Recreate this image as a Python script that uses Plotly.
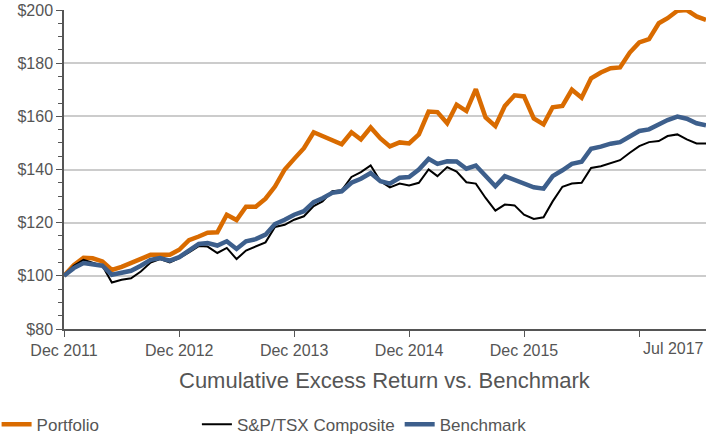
import pandas as pd
import plotly.graph_objects as go

months = pd.date_range("2011-12-01", periods=68, freq="MS")

portfolio = [100, 104, 106.8, 106.6, 105.4, 102.2, 103.4, 105, 106.6, 107.9,
             107.9, 107.9, 109.8, 113.4, 114.8, 116.2, 116.4, 123, 121, 126,
             126, 129, 133.6, 140, 144, 148, 154, 152.5, 151.2, 149.5,
             154, 151.3, 155.8, 151.7, 148.7, 150.2, 149.8, 153.2, 161.8, 161.6,
             157.4, 164.4, 162, 170.2, 159.6, 156.3, 163.9, 167.9, 167.5, 159.2,
             157, 163.4, 163.9, 170, 167, 174.3, 176.5, 178.1, 178.4, 184,
             187.8, 189, 195, 196.9, 199.7, 200, 197.6, 196.3]

composite = [100, 103.8, 106, 104.8, 103.8, 97.5, 98.5, 99.1, 101.6, 105,
             106.3, 105, 106.7, 108.8, 111.2, 111, 108.6, 110.5, 106.3, 109.5,
             111, 112.6, 118.4, 119.2, 121.1, 122.4, 126.2, 128, 131.8, 132.2,
             137.2, 139, 141.5, 135.6, 133.3, 134.7, 134, 135, 140, 137.5,
             140.9, 139.2, 135.2, 134.7, 129.3, 124.5, 126.8, 126.5, 123, 121.4,
             122, 128, 133.5, 134.7, 135, 140.6, 141.2, 142.5, 143.5, 146.3,
             148.8, 150.3, 150.7, 152.6, 153.2, 151.3, 149.8, 149.8]

benchmark = [100, 102.9, 104.8, 104.4, 103.8, 100.4, 101.3, 101.9, 103.8, 106,
             106.7, 105.7, 107, 109.4, 112, 112.3, 111.4, 113, 110.1, 113,
             113.8, 115.5, 119.5, 121.1, 123, 124.3, 127.7, 129.2, 131.2, 131.8,
             135, 136.5, 138.7, 135.6, 134.7, 136.9, 137.2, 140, 144, 142.1,
             143.1, 143, 140.3, 141.5, 137.5, 133.7, 137.5, 136.2, 135, 133.3,
             132.8, 137.5, 139.7, 142.1, 142.9, 147.8, 148.6, 149.7, 150.3, 152.6,
             154.5, 155.1, 157, 158.6, 159.9, 159.1, 157.4, 156.6]

tick_dates = ["2011-12-01", "2012-12-01", "2013-12-01", "2014-12-01", "2015-12-01", "2016-12-01"]
tick_labels = ["Dec 2011", "Dec 2012", "Dec 2013", "Dec 2014", "Dec 2015", ""]
last_label = "Jul 2017"
title_text = "Cumulative Excess Return vs. Benchmark"

FONT = "Liberation Sans, Arial, sans-serif"
GREY = "#555555"

fig = go.Figure()
fig.add_trace(go.Scatter(x=months, y=portfolio, name="Portfolio", mode="lines",
                         line=dict(color="#D96B00", width=4.5), legend="legend"))
fig.add_trace(go.Scatter(x=months, y=composite, name="S&P/TSX Composite", mode="lines",
                         line=dict(color="#000000", width=2), legend="legend2"))
fig.add_trace(go.Scatter(x=months, y=benchmark, name="Benchmark", mode="lines",
                         line=dict(color="#3D5F8C", width=4.5), legend="legend2"))

fig.update_layout(
    width=728, height=439,
    margin=dict(l=64, r=22, t=10, b=110, autoexpand=False),
    showlegend=True,
    plot_bgcolor="white", paper_bgcolor="white",
    font=dict(family=FONT, size=16, color=GREY),
    legend=dict(orientation="h", x=-0.105, xanchor="left", y=-0.30, yanchor="middle",
                font=dict(size=17, color=GREY), bgcolor="rgba(0,0,0,0)"),
    legend2=dict(orientation="h", x=0.207, xanchor="left", y=-0.30, yanchor="middle",
                 font=dict(size=17, color=GREY), bgcolor="rgba(0,0,0,0)"),
    annotations=[
        dict(text=title_text, x=0.5, y=-0.16, xref="paper", yref="paper",
             xanchor="center", yanchor="middle", showarrow=False,
             font=dict(size=22, color=GREY)),
        dict(text=last_label, x=1.0, y=0, xref="paper", yref="paper",
             xanchor="right", yanchor="top", yshift=-9, showarrow=False,
             font=dict(size=16, color=GREY)),
    ],
)

fig.update_xaxes(
    range=["2011-12-01", "2017-07-01"], automargin=False,
    tickvals=tick_dates, ticktext=tick_labels,
    showgrid=False, showline=True, linecolor=GREY, linewidth=1.5,
    ticks="outside", ticklen=6, tickcolor=GREY, tickwidth=1,
    tickfont=dict(size=16, color=GREY),
)
fig.update_yaxes(
    range=[80, 200], dtick=20, tickprefix="$", automargin=False,
    showgrid=True, gridcolor="#CCCCCC", gridwidth=1.5,
    showline=True, linecolor=GREY, linewidth=1.5,
    ticks="outside", ticklen=6, tickcolor=GREY, tickwidth=1,
    minor=dict(dtick=5, ticks="outside", ticklen=4, tickcolor=GREY, showgrid=False),
    tickfont=dict(size=16, color=GREY), zeroline=False,
)

fig.write_html("out.html", config={"displayModeBar": False},
               post_script="document.body.style.margin='0';")
